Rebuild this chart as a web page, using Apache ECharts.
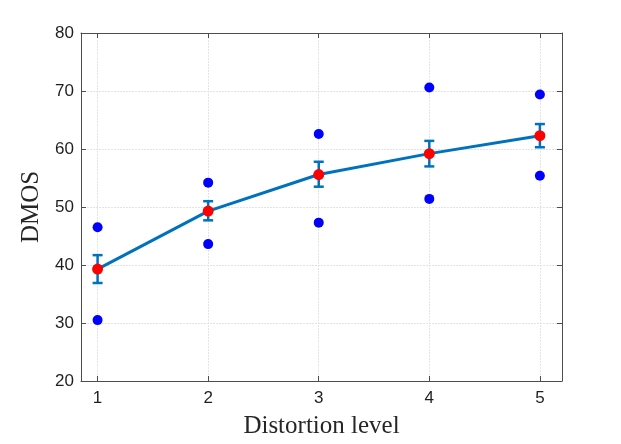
<!DOCTYPE html>
<html><head><meta charset="utf-8">
<script src="https://cdn.jsdelivr.net/npm/echarts@6/dist/echarts.min.js"></script>
<style>html,body{margin:0;padding:0;background:#fff}#c{width:621px;height:444px}</style>
</head><body><div id="c"></div>
<script>
const levels = [1, 2, 3, 4, 5];
const highPts = [46.5, 54.2, 62.6, 70.6, 69.4];
const lowPts = [30.5, 43.6, 47.3, 51.4, 55.4];
const means = [39.3, 49.3, 55.6, 59.2, 62.3];
const errTop = [41.7, 51.0, 57.8, 61.4, 64.3];
const errBottom = [36.9, 47.7, 53.5, 57.0, 60.3];
const xTicks = [1, 2, 3, 4, 5];
const yTicks = [20, 30, 40, 50, 60, 70, 80];

const chart = echarts.init(document.getElementById('c'), null, {renderer: 'canvas'});
const axisColor = '#4d4d4d';
const gridColor = '#e3e3e3';
const tickFont = {fontFamily: 'Liberation Sans, Arial, sans-serif', fontSize: 17, color: '#1f1f1f'};
const nameFont = {fontFamily: 'Liberation Serif, Times New Roman, serif', fontSize: 25, color: '#262626'};

const pairs = a => levels.map((x, i) => [x, a[i]]);

chart.setOption({
  animation: false,
  grid: {left: 81, top: 33, right: 59, bottom: 61, containLabel: false},
  xAxis: [{
    type: 'value', min: 0.85, max: 5.2, position: 'bottom',
    name: 'Distortion level', nameLocation: 'middle', nameGap: 33, nameTextStyle: nameFont,
    axisLine: {show: true, lineStyle: {color: axisColor, width: 1}},
    axisTick: {show: true, inside: true, length: 5, customValues: xTicks, lineStyle: {color: axisColor}},
    axisLabel: {customValues: xTicks, margin: 9, ...tickFont},
    splitLine: {show: false}
  }, {
    type: 'value', min: 0.85, max: 5.2, position: 'top',
    axisLine: {show: true, onZero: false, lineStyle: {color: axisColor, width: 1}},
    axisTick: {show: true, inside: true, length: 5, customValues: xTicks, lineStyle: {color: axisColor}},
    axisLabel: {show: false}, splitLine: {show: false}
  }],
  yAxis: [{
    type: 'value', min: 20, max: 80, interval: 10, position: 'left',
    name: 'DMOS', nameLocation: 'middle', nameGap: 36, nameTextStyle: nameFont,
    axisLine: {show: true, lineStyle: {color: axisColor, width: 1}},
    axisTick: {show: true, inside: true, length: 5, lineStyle: {color: axisColor}},
    axisLabel: {margin: 7, ...tickFont},
    splitLine: {show: true, lineStyle: {color: gridColor, width: 1, type: [2, 1]}}
  }, {
    type: 'value', min: 20, max: 80, interval: 10, position: 'right',
    axisLine: {show: true, onZero: false, lineStyle: {color: axisColor, width: 1}},
    axisTick: {show: true, inside: true, length: 5, lineStyle: {color: axisColor}},
    axisLabel: {show: false}, splitLine: {show: false}
  }],
  series: [
    {
      type: 'line', xAxisIndex: 0, yAxisIndex: 0, data: [], z: 0,
      markLine: {
        silent: true, symbol: 'none', label: {show: false}, z: 0,
        lineStyle: {color: gridColor, width: 1, type: [2, 1]},
        data: xTicks.map(v => ({xAxis: v}))
      }
    },
    {
      type: 'scatter', data: pairs(highPts), symbol: 'circle', symbolSize: 10,
      itemStyle: {color: '#0000ff', opacity: 1}, z: 3
    },
    {
      type: 'scatter', data: pairs(lowPts), symbol: 'circle', symbolSize: 10,
      itemStyle: {color: '#0000ff', opacity: 1}, z: 3
    },
    {
      type: 'line', data: pairs(means), symbol: 'none', smooth: false,
      lineStyle: {color: '#0072bd', width: 3}, z: 4
    },
    {
      type: 'custom', z: 5,
      data: levels.map((x, i) => [x, errBottom[i], errTop[i]]),
      renderItem: (params, api) => {
        const x = api.value(0);
        const lo = api.coord([x, api.value(1)]);
        const hi = api.coord([x, api.value(2)]);
        const hw = 5;
        const style = {stroke: '#0072bd', lineWidth: 2.5, fill: null};
        return {type: 'group', children: [
          {type: 'line', shape: {x1: lo[0], y1: lo[1], x2: hi[0], y2: hi[1]}, style},
          {type: 'line', shape: {x1: lo[0] - hw, y1: lo[1], x2: lo[0] + hw, y2: lo[1]}, style},
          {type: 'line', shape: {x1: hi[0] - hw, y1: hi[1], x2: hi[0] + hw, y2: hi[1]}, style}
        ]};
      },
      encode: {x: 0, y: [1, 2]}
    },
    {
      type: 'scatter', data: pairs(means), symbol: 'circle', symbolSize: 11,
      itemStyle: {color: '#ff0000', opacity: 1}, z: 6
    }
  ]
});
</script></body></html>
